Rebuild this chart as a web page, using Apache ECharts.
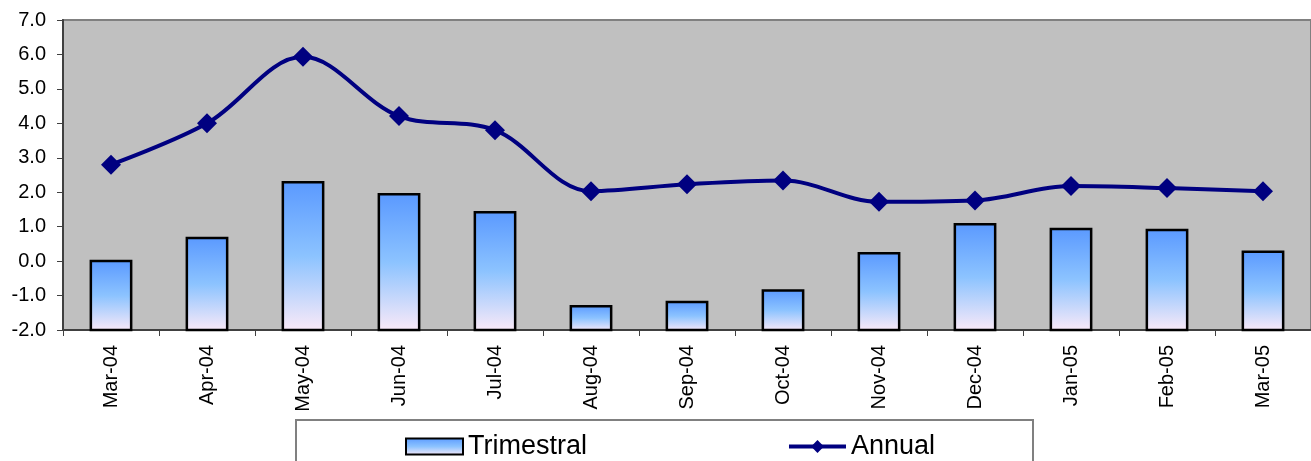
<!DOCTYPE html>
<html>
<head>
<meta charset="utf-8">
<script src="https://cdn.jsdelivr.net/npm/echarts@6/dist/echarts.min.js"></script>
<style>
	html, body { margin: 0; padding: 0; background: #fff; }
	#chart { width: 1311px; height: 461px; }
</style>
</head>
<body>
<div id="chart"></div>
<script>
	// 数据
	const months = ['Mar-04', 'Apr-04', 'May-04', 'Jun-04', 'Jul-04', 'Aug-04', 'Sep-04', 'Oct-04', 'Nov-04', 'Dec-04', 'Jan-05', 'Feb-05', 'Mar-05']
	const trimestral = [0.0, 0.67, 2.29, 1.94, 1.42, -1.31, -1.19, -0.85, 0.23, 1.07, 0.93, 0.9, 0.27]
	const annual = [2.8, 4.0, 5.93, 4.21, 3.8, 2.03, 2.23, 2.34, 1.72, 1.76, 2.18, 2.12, 2.03]
	const yMin = -2
	const yMax = 7

	const font = 'Liberation Sans, Arial, sans-serif'

	const barFill = new echarts.graphic.LinearGradient(0, 0, 0, 1, [
		{ offset: 0, color: '#5A99FF' },
		{ offset: 0.5, color: '#8CC3FF' },
		{ offset: 1, color: '#FBEAF8' }
	])

	const chart = echarts.init(document.getElementById('chart'))

	const option = {
		animation: false,
		backgroundColor: '#fff',
		grid: {
			left: 63,
			right: -2,
			top: 20,
			bottom: 131,
			show: true,
			backgroundColor: '#C0C0C0',
			borderColor: '#808080',
			borderWidth: 2
		},
		legend: {
			left: 400,
			top: 428,
			itemWidth: 57,
			itemHeight: 16,
			itemGap: 200,
			textStyle: { fontFamily: font, fontSize: 27, color: '#000' },
			data: [
				{ name: 'Trimestral', icon: 'rect', itemStyle: { color: barFill, borderColor: '#000', borderWidth: 2 } },
				{ name: 'Annual', lineStyle: { width: 4, color: '#000080' }, itemStyle: { color: '#000080' } }
			]
		},
		graphic: [
			{
				type: 'rect',
				z: -1,
				shape: { x: 296, y: 420, width: 737, height: 60 },
				style: { fill: '#fff', stroke: '#808080', lineWidth: 2 }
			}
		],
		xAxis: {
			type: 'category',
			data: months,
			boundaryGap: true,
			axisLine: { show: true, onZero: false, lineStyle: { color: '#404040', width: 2 } },
			axisTick: { show: true, length: 6, lineStyle: { color: '#404040', width: 1 } },
			axisLabel: {
				rotate: 90,
				margin: 15,
				fontFamily: font,
				fontSize: 20,
				color: '#000'
			}
		},
		yAxis: {
			type: 'value',
			min: yMin,
			max: yMax,
			interval: 1,
			splitLine: { show: false },
			axisLine: { show: true, lineStyle: { color: '#404040', width: 2 } },
			axisTick: { show: true, length: 6, lineStyle: { color: '#404040', width: 1 } },
			axisLabel: {
				margin: 17,
				fontFamily: font,
				fontSize: 20,
				color: '#000',
				formatter: v => v.toFixed(1)
			}
		},
		series: [
			{
				name: 'Trimestral',
				type: 'custom',
				z: 2,
				itemStyle: { color: barFill, borderColor: '#000', borderWidth: 2 },
				encode: { x: 0, y: 1 },
				data: trimestral.map((v, i) => [i, v]),
				renderItem: (params, api) => {
					const top = api.coord([api.value(0), api.value(1)])
					const base = api.coord([api.value(0), yMin])
					const w = api.size([1, 0])[0] * 0.42
					return {
						type: 'rect',
						shape: { x: top[0] - w / 2, y: top[1], width: w, height: base[1] - top[1] },
						style: { fill: barFill, stroke: '#000', lineWidth: 2.5 }
					}
				}
			},
			{
				name: 'Annual',
				type: 'line',
				z: 3,
				data: annual,
				smooth: 0.35,
				symbol: 'diamond',
				symbolSize: 20,
				lineStyle: { color: '#000080', width: 4 },
				itemStyle: { color: '#000080' }
			}
		]
	}

	chart.setOption(option)
</script>
</body>
</html>
